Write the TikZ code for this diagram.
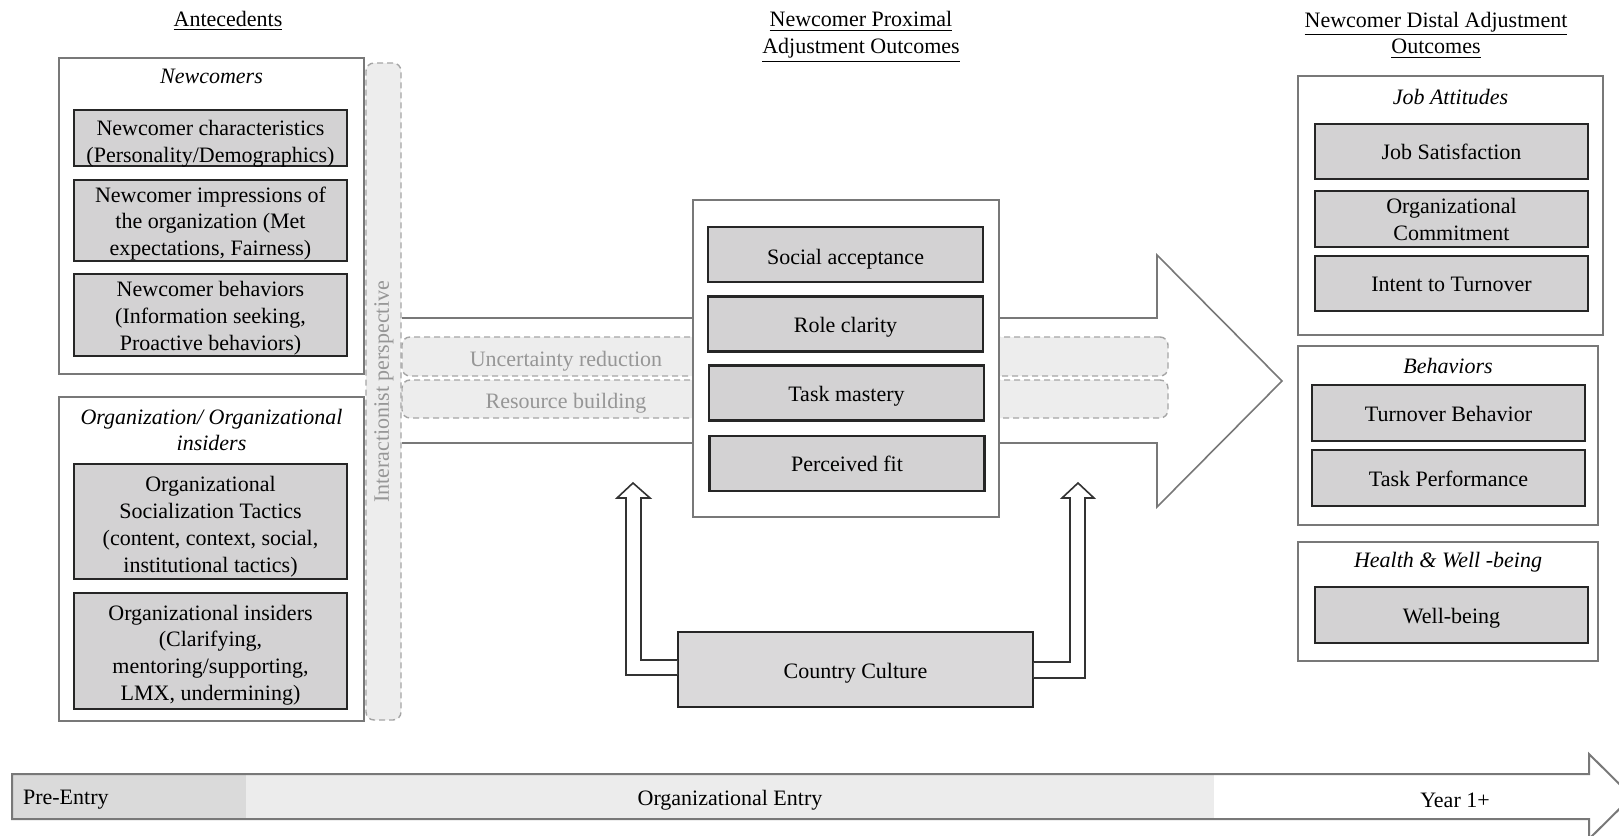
\documentclass[tikz,border=0pt]{standalone}
\usepackage{fontspec}
\setmainfont{Liberation Serif}
\definecolor{boxgray}{RGB}{211,210,211}
\definecolor{bandgray}{RGB}{237,237,237}
\definecolor{dashgray}{RGB}{165,165,165}
\definecolor{textgray}{RGB}{150,150,150}
\definecolor{preentry}{RGB}{218,218,218}
\definecolor{orgentry}{RGB}{236,236,236}
\definecolor{framegray}{RGB}{120,120,120}
% text of a grey box, set a little lower than centred
\newcommand{\boxtext}[2][1.5pt]{\raisebox{-#1}[\height][\depth]{\begin{tabular}{@{}c@{}}#2\end{tabular}}}
\begin{document}
\begin{tikzpicture}[x=0.5pt, y=-0.5pt,
    every node/.style={font=\fontsize{11}{13.4}\selectfont},
    itembox/.style={draw=black!85, line width=1.1pt, fill=boxgray, align=center, inner sep=0pt, minimum width=136.5pt},
    groupbox/.style={draw=framegray, line width=0.7pt, fill=white, inner sep=0pt},
    glabel/.style={font=\fontsize{11}{13.4}\selectfont\itshape, align=center},
    heading/.style={align=center},
    bandbox/.style={draw=dashgray, dash pattern=on 3pt off 2pt, line width=0.7pt, fill=bandgray, rounded corners=4pt, inner sep=0pt},
    blockarrow/.style={draw=black!80, line width=0.8pt, fill=white}]
    \useasboundingbox (0,0) rectangle (1619,836);
    \clip (0,0) rectangle (1619,836);

    % headings
    \node[heading] (hant) at (228,21) {\underline{Antecedents}};
    \node[heading] (hprox) at (861,37) {\underline{Newcomer Proximal}\\\underline{Adjustment Outcomes}};
    \node[heading] (hdist) at (1436,35) {\underline{Newcomer Distal Adjustment}\\\underline{Outcomes}};

    % big arrow with the two mechanisms
    \draw[draw=framegray, line width=0.8pt, fill=white] (402,318) -- (1157,318) -- (1157,255) -- (1282,381) -- (1157,507) -- (1157,443) -- (402,443);
    \node[bandbox, minimum width=383pt, minimum height=19.5pt] (ur) at (785,356.5) {};
    \node[bandbox, minimum width=383pt, minimum height=19pt] (rb) at (785,399) {};
    \node[text=textgray] (urtext) at (566,361) {Uncertainty reduction};
    \node[text=textgray] (rbtext) at (566,403) {Resource building};

    % antecedents
    \node[groupbox, minimum width=152.5pt, minimum height=158pt] (newc) at (211.5,216) {};
    \node[glabel] (newclab) at (211.5,76) {Newcomers};
    \node[itembox, minimum height=28pt] (nc1) at (210.5,138) {\boxtext[3pt]{Newcomer characteristics\\(Personality/Demographics)}};
    \node[itembox, minimum height=40.5pt] (nc2) at (210.5,220.5) {\boxtext{Newcomer impressions of\\the organization (Met\\expectations, Fairness)}};
    \node[itembox, minimum height=41pt] (nc3) at (210.5,315) {\boxtext{Newcomer behaviors\\(Information seeking,\\Proactive behaviors)}};

    \node[groupbox, minimum width=152.5pt, minimum height=162pt] (org) at (211.5,559) {};
    \node[glabel] (orglab) at (211.5,430) {Organization/ Organizational\\insiders};
    \node[itembox, minimum height=57.5pt] (org1) at (210.5,521.5) {\boxtext[2.5pt]{Organizational\\Socialization Tactics\\(content, context, social,\\institutional tactics)}};
    \node[itembox, minimum height=58pt] (org2) at (210.5,651) {\boxtext[2pt]{Organizational insiders\\(Clarifying,\\mentoring/supporting,\\LMX, undermining)}};

    \node[bandbox, minimum width=17.5pt, minimum height=328.5pt] (ip) at (383.5,391.5) {};
    \node[rotate=90, text=textgray] (iptext) at (384,392) {Interactionist perspective};

    % proximal outcomes
    \node[groupbox, minimum width=153pt, minimum height=158.5pt] (prox) at (846,358.5) {};
    \node[itembox, minimum width=137.5pt, minimum height=27.5pt] (sa) at (845.5,254.5) {\boxtext[2.5pt]{Social acceptance}};
    \node[itembox, minimum width=137.5pt, minimum height=27.5pt] (rc) at (845.5,324) {\boxtext{Role clarity}};
    \node[itembox, minimum width=137.5pt, minimum height=27.5pt] (tm) at (846.5,393) {\boxtext{Task mastery}};
    \node[itembox, minimum width=137.5pt, minimum height=27.5pt] (pf) at (847,463.5) {\boxtext{Perceived fit}};

    % country culture
    \node[itembox, line width=0.9pt, fill=boxgray!85, minimum width=177.5pt, minimum height=37.5pt] (cc) at (855.5,669.5) {\boxtext[2pt]{Country Culture}};
    \coordinate (tipL) at (633,483);
    \coordinate (tipR) at (1078,483);
    \draw[blockarrow] (cc.west |- 0,675) -- (626,675) -- (626,498) -- (617,498) -- (tipL) -- (650,498) -- (641,498) -- (641,660) -- (cc.west |- 0,660);
    \draw[blockarrow] (cc.east |- 0,678) -- (1085,678) -- (1085,498) -- (1094,498) -- (tipR) -- (1062,498) -- (1070,498) -- (1070,662) -- (cc.east |- 0,662);

    % distal outcomes
    \node[groupbox, minimum width=152.5pt, minimum height=129.5pt] (att) at (1450.5,205.5) {};
    \node[glabel] (attlab) at (1450.5,97) {Job Attitudes};
    \node[itembox, minimum height=27.5pt] (js) at (1451.5,151.5) {\boxtext{Job Satisfaction}};
    \node[itembox, minimum height=28pt] (oc) at (1451.5,219) {\boxtext{Organizational\\Commitment}};
    \node[itembox, minimum height=27.5pt] (it) at (1451.5,283.5) {\boxtext{Intent to Turnover}};

    \node[groupbox, minimum width=150pt, minimum height=89.5pt] (beh) at (1448,435.5) {};
    \node[glabel] (behlab) at (1448,366) {Behaviors};
    \node[itembox, minimum height=28pt] (tb) at (1448.5,413) {\boxtext{Turnover Behavior}};
    \node[itembox, minimum height=28pt] (tp) at (1448.5,478) {\boxtext{Task Performance}};

    \node[groupbox, minimum width=150pt, minimum height=59.5pt] (hw) at (1448,601.5) {};
    \node[glabel] (hwlab) at (1448,562) {Health \& Well -being};
    \node[itembox, minimum height=28pt] (wb) at (1451.5,615) {\boxtext{Well-being}};

    % time line
    \fill[preentry] (12,774) rectangle (246,819);
    \fill[orgentry] (246,774) rectangle (1214,819);
    \draw[framegray, line width=1pt] (12,774) -- (1589,774) -- (1589,754) -- (1632,796.5) -- (1589,839) -- (1589,819) -- (12,819) -- cycle;
    \node[anchor=west] (pre) at (16,800) {Pre-Entry};
    \node (entry) at (730,800) {Organizational Entry};
    \node (year) at (1455,800) {Year 1+};
\end{tikzpicture}
\end{document}
